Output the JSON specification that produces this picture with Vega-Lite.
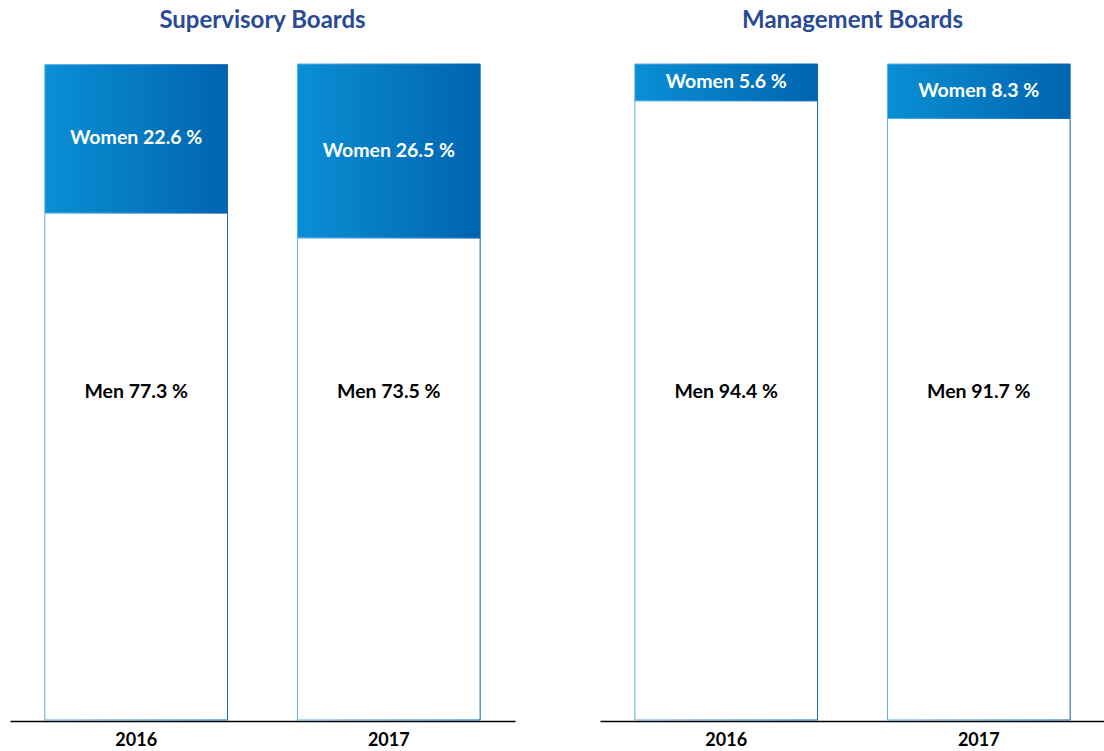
{
  "$schema": "https://vega.github.io/schema/vega-lite/v6.json",
  "padding": {"left": 10, "top": 9, "right": 0, "bottom": 0},
  "background": "white",
  "data": {"values": [
    {"board": "Supervisory Boards", "year": "2016", "gender": "Men", "value": 77.3},
    {"board": "Supervisory Boards", "year": "2016", "gender": "Women", "value": 22.6},
    {"board": "Supervisory Boards", "year": "2017", "gender": "Men", "value": 73.5},
    {"board": "Supervisory Boards", "year": "2017", "gender": "Women", "value": 26.5},
    {"board": "Management Boards", "year": "2016", "gender": "Men", "value": 94.4},
    {"board": "Management Boards", "year": "2016", "gender": "Women", "value": 5.6},
    {"board": "Management Boards", "year": "2017", "gender": "Men", "value": 91.7},
    {"board": "Management Boards", "year": "2017", "gender": "Women", "value": 8.3}
  ]},
  "transform": [
    {"calculate": "datum.gender + ' ' + format(datum.value, '.1f') + ' %'", "as": "label"},
    {"calculate": "100 - datum.value / 2", "as": "mid"}
  ],
  "facet": {
    "column": {
      "field": "board", "type": "nominal",
      "sort": ["Supervisory Boards", "Management Boards"],
      "header": {"title": null, "labelFontSize": 24, "labelFont": "Lato", "labelFontWeight": "bold", "labelColor": "#2a4a94", "labelPadding": 30}
    }
  },
  "spacing": 85,
  "spec": {
    "width": 505,
    "height": 656,
    "encoding": {
      "x": {"field": "year", "type": "ordinal",
        "scale": {"paddingInner": 0.2767, "paddingOuter": 0.138},
        "axis": {"title": null, "domainColor": "black", "domainWidth": 1.6, "ticks": false, "labelAngle": 0, "labelFont": "Lato", "labelFontWeight": "bold", "labelFontSize": 18, "labelColor": "black", "labelPadding": 10, "grid": false}}
    },
    "layer": [
      {
        "mark": {"type": "bar", "strokeWidth": 1},
        "encoding": {
          "y": {"field": "value", "type": "quantitative", "stack": "zero", "scale": {"domain": [0, 100], "nice": false}, "axis": null},
          "order": {"field": "gender", "sort": "ascending"},
          "fill": {
            "condition": {"test": "datum.gender === 'Women'", "value": {"gradient": "linear", "x1": 0, "x2": 1, "y1": 0, "y2": 0, "stops": [{"offset": 0, "color": "#0a8fd4"}, {"offset": 1, "color": "#0064b0"}]}},
            "value": "white"
          },
          "stroke": {"value": {"gradient": "linear", "x1": 0, "x2": 1, "y1": 0, "y2": 0, "stops": [{"offset": 0, "color": "#58b0e4"}, {"offset": 1, "color": "#0a66b2"}]}}
        }
      },
      {
        "transform": [{"filter": "datum.gender === 'Women'"}],
        "mark": {"type": "text", "font": "Lato", "fontWeight": "bold", "fontSize": 19.5, "color": "white", "baseline": "middle"},
        "encoding": {
          "y": {"field": "mid", "type": "quantitative"},
          "text": {"field": "label"}
        }
      },
      {
        "transform": [{"filter": "datum.gender === 'Men'"}],
        "mark": {"type": "text", "font": "Lato", "fontWeight": "bold", "fontSize": 19.5, "color": "black", "baseline": "middle"},
        "encoding": {
          "y": {"datum": 50, "type": "quantitative"},
          "text": {"field": "label"}
        }
      }
    ]
  },
  "config": {"view": {"stroke": null}}
}
